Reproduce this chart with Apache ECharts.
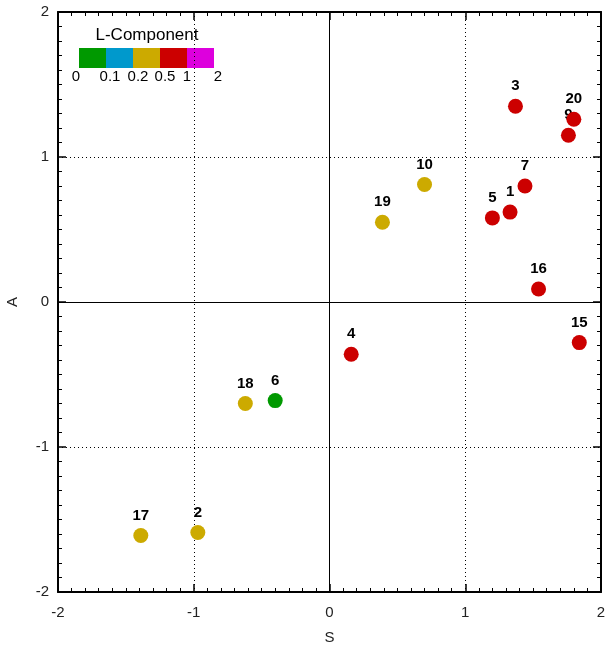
<!DOCTYPE html>
<html>
<head>
<meta charset="utf-8">
<script src="https://cdn.jsdelivr.net/npm/echarts@6/dist/echarts.min.js"></script>
<style>
  html, body { margin: 0; padding: 0; background: #fff; }
  #chart { width: 607px; height: 652px; }
</style>
</head>
<body>
<div id="chart"></div>
<script>
// point labels, S (x) and A (y) values, and L-component bin index
var ids   = ['1', '2', '3', '4', '5', '6', '7', '9', '10', '15', '16', '17', '18', '19', '20'];
var sVals = [1.33, -0.97, 1.37, 0.16, 1.20, -0.40, 1.44, 1.76, 0.70, 1.84, 1.54, -1.39, -0.62, 0.39, 1.80];
var aVals = [0.62, -1.59, 1.35, -0.36, 0.58, -0.68, 0.80, 1.15, 0.81, -0.28, 0.09, -1.61, -0.70, 0.55, 1.26];
var lBins = [3, 2, 3, 3, 3, 0, 3, 3, 2, 3, 3, 2, 2, 2, 3];

// colour scale of the L-component legend
var binColors = ['#009900', '#0099cc', '#ccaa00', '#cc0000', '#dd00dd'];
var binLabels = ['0', '0.1', '0.2', '0.5', '1', '2'];
var legendTitle = 'L-Component';

var hiddenId = '9';   // its label sits under point 20

var font = 'Liberation Sans';

function buildData(keep) {
    var out = [];
    for (var i = 0; i < ids.length; i++) {
        if ((ids[i] === hiddenId) !== keep) continue;
        out.push({
            value: [sVals[i], aVals[i]],
            name: ids[i],
            itemStyle: { color: binColors[lBins[i]], opacity: 1 }
        });
    }
    return out;
}

var myChart = echarts.init(document.getElementById('chart'));

// legend colour bar
var legendGraphics = [];
var barX = 79, barY = 48, blockW = 27, blockH = 20;
legendGraphics.push({
    type: 'text', x: 147, y: 35,
    style: { text: legendTitle, font: '17px ' + font, fill: '#000', align: 'center', verticalAlign: 'middle' }
});
binColors.forEach(function (c, i) {
    legendGraphics.push({
        type: 'rect',
        shape: { x: barX + i * blockW, y: barY, width: blockW, height: blockH },
        style: { fill: c }
    });
});
var labelX = [76, 110, 138, 165, 187, 218];
binLabels.forEach(function (t, i) {
    legendGraphics.push({
        type: 'text', x: labelX[i], y: 77,
        style: { text: t, font: '15px ' + font, fill: '#000', align: 'center', verticalAlign: 'middle' }
    });
});

var tickCommon = {
    min: -2, max: 2, interval: 1,
    axisLine: { show: true, onZero: false, lineStyle: { color: '#000', width: 2 } },
    axisTick: { show: true, inside: true, length: 8, lineStyle: { color: '#000', width: 1.5 } },
    minorTick: { show: true, splitNumber: 10, length: 4, lineStyle: { color: '#000', width: 1 } },
    splitLine: { show: false },
    minorSplitLine: { show: false }
};

function axis(extra) {
    return Object.assign({}, JSON.parse(JSON.stringify(tickCommon)), extra);
}

var dotted = { color: '#000', type: [1, 3], width: 1 };

var pointLabel = {
    show: true, position: 'top', distance: 5,
    formatter: '{b}', fontFamily: font, fontSize: 15, fontWeight: 'bold', color: '#000'
};

option = {
    animation: false,
    backgroundColor: '#fff',
    grid: { left: 58, top: 12, right: 6, bottom: 60, containLabel: false, outerBoundsMode: 'none' },
    xAxis: [
        axis({
            type: 'value', position: 'bottom',
            name: 'S', nameLocation: 'middle', nameGap: 38,
            nameTextStyle: { fontFamily: font, fontSize: 15, color: '#222' },
            axisLabel: { fontFamily: font, fontSize: 15, color: '#222', margin: 13 },
            splitLine: { show: true, lineStyle: dotted }
        }),
        axis({ type: 'value', position: 'top', axisLabel: { show: false } })
    ],
    yAxis: [
        axis({
            type: 'value', position: 'left',
            name: 'A', nameLocation: 'middle', nameGap: 38,
            nameTextStyle: { fontFamily: font, fontSize: 15, color: '#222' },
            axisLabel: { fontFamily: font, fontSize: 15, color: '#222', margin: 9 },
            splitLine: { show: true, lineStyle: dotted }
        }),
        axis({ type: 'value', position: 'right', axisLabel: { show: false } })
    ],
    graphic: legendGraphics,
    series: [
        {
            type: 'scatter', zlevel: 0, z: 2,
            symbolSize: 15,
            data: buildData(true),
            label: pointLabel
        },
        {
            type: 'scatter', zlevel: 1, z: 3,
            symbolSize: 15,
            data: buildData(false),
            label: pointLabel,
            markLine: {
                silent: true, symbol: 'none',
                label: { show: false },
                lineStyle: { color: '#000', type: 'solid', width: 1 },
                data: [{ xAxis: 0 }, { yAxis: 0 }]
            }
        }
    ]
};

myChart.setOption(option);
</script>
</body>
</html>
